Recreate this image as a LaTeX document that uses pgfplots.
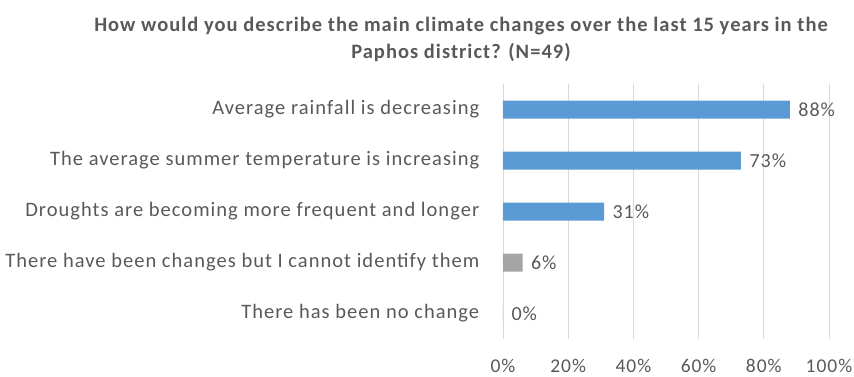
\documentclass[border=0pt]{standalone}
\usepackage{pgfplots}
\pgfplotsset{compat=1.18}
\usepackage{fontspec}
\setmainfont{Carlito}[LetterSpace=5]
\definecolor{txtgray}{HTML}{595959}
\definecolor{barblue}{HTML}{5B9BD5}
\definecolor{bargray}{HTML}{A5A5A5}
\definecolor{gridgray}{HTML}{D9D9D9}
\begin{document}
\begin{tikzpicture}
\path[use as bounding box] (0,0) rectangle (854pt,-376pt);
\node[align=center, text=txtgray, font=\fontsize{20.5}{27}\selectfont\bfseries]
  at (461pt,-39pt) {How would you describe the main climate changes over the last 15 years in the\\Paphos district? (N=49)};
\begin{axis}[
  at={(503pt,-339pt)}, anchor=south west,
  scale only axis, width=326pt, height=255pt,
  xbar, bar width=18pt, bar shift=0pt,
  xmin=0, xmax=100,
  ymin=-0.5, ymax=4.5, y dir=reverse,
  xtick={0,20,40,60,80,100},
  xticklabels={0\%,20\%,40\%,60\%,80\%,100\%},
  ytick={0,1,2,3,4},
  yticklabels={Average rainfall is decreasing,
    The average summer temperature is increasing,
    Droughts are becoming more frequent and longer,
    There have been changes but I cannot identify them,
    There has been no change},
  axis line style={draw=none},
  tick style={draw=none},
  xmajorgrids, grid style={gridgray, line width=0.8pt},
  xticklabel style={text=txtgray, font=\fontsize{19.5}{22}\selectfont, yshift=-17pt},
  yticklabel style={text=txtgray, font=\fontsize{20.5}{22}\selectfont, xshift=-16pt},
  nodes near coords={\pgfmathprintnumber{\pgfplotspointmeta}\%},
  nodes near coords style={text=txtgray, font=\fontsize{20}{22}\selectfont, anchor=west, xshift=5pt},
  /pgf/number format/assume math mode=true,
]
\addplot[fill=barblue, draw=none] coordinates {(88,0) (73,1) (31,2)};
\addplot[fill=bargray, draw=none] coordinates {(6,3) (0,4)};
\end{axis}
\end{tikzpicture}
\end{document}
